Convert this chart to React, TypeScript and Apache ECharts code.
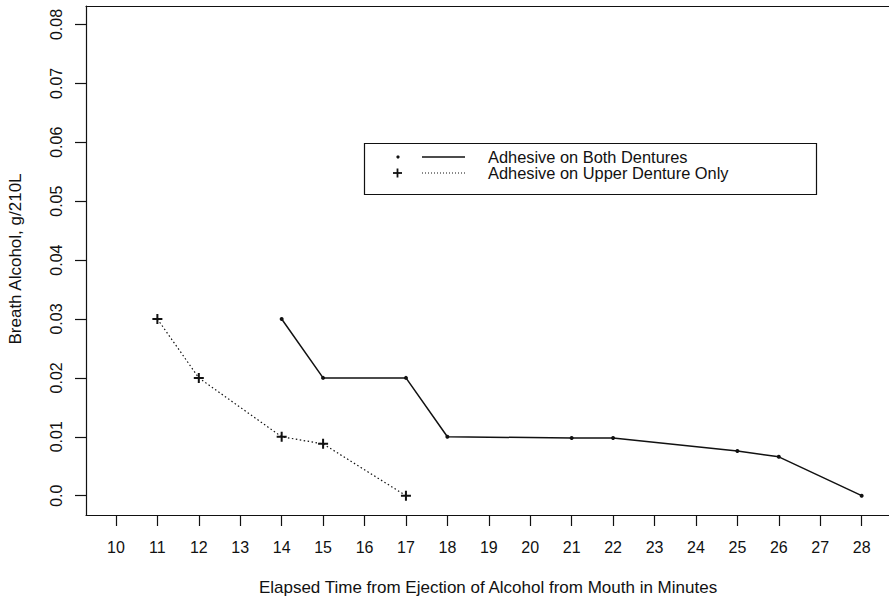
import React, { useEffect, useRef } from "react";
import * as echarts from "echarts";

const xTicks = [10, 11, 12, 13, 14, 15, 16, 17, 18, 19, 20, 21, 22, 23, 24, 25, 26, 27, 28];
const yTicks = [0, 0.01, 0.02, 0.03, 0.04, 0.05, 0.06, 0.07, 0.08];

const bothX = [14, 15, 17, 18, 21, 22, 25, 26, 28];
const bothY = [0.03, 0.02, 0.02, 0.01, 0.0098, 0.0098, 0.0076, 0.0066, 0];

const upperX = [11, 12, 14, 15, 17];
const upperY = [0.03, 0.02, 0.01, 0.0088, 0];

const legendNames = ["Adhesive on Both Dentures", "Adhesive on Upper Denture Only"];
const xTitle = "Elapsed Time from Ejection of Alcohol from Mouth in Minutes";
const yTitle = "Breath Alcohol, g/210L";

const FONT = "'Liberation Sans', Arial, Helvetica, sans-serif";
const INK = "#111";

export default function App() {
  const ref = useRef<HTMLDivElement>(null);
  useEffect(() => {
    if (!ref.current) return;
    const chart = echarts.init(ref.current, null, { renderer: "svg" });
    const plus = "path://M4,0H6V4H10V6H6V10H4V6H0V4H4Z";
    const X_MIN = 9.277;
    const X_MAX = 28.66;
    chart.setOption({
      animation: false,
      backgroundColor: "#fff",
      textStyle: { fontFamily: FONT, color: INK },
      grid: {
        left: 86,
        right: 0,
        top: 6,
        bottom: 84,
        show: false,
      },
      xAxis: [
        {
          type: "value",
          min: X_MIN,
          max: X_MAX,
          splitLine: { show: false },
          axisLine: { show: true, onZero: false, lineStyle: { color: INK, width: 1.2 } },
          axisTick: {
            show: true,
            customValues: xTicks,
            length: 11,
            lineStyle: { color: INK, width: 1.2 },
          },
          axisLabel: {
            customValues: xTicks,
            margin: 24,
            fontSize: 16,
            color: INK,
            fontFamily: FONT,
          },
        },
        {
          type: "value",
          position: "top",
          min: X_MIN,
          max: X_MAX,
          splitLine: { show: false },
          axisLine: { show: true, onZero: false, lineStyle: { color: INK, width: 1.2 } },
          axisTick: { show: false },
          axisLabel: { show: false },
        },
      ],
      yAxis: {
        type: "value",
        min: -0.00328,
        max: 0.08314,
        splitLine: { show: false },
        axisLine: { show: true, onZero: false, lineStyle: { color: INK, width: 1.2 } },
        axisTick: {
          show: true,
          customValues: yTicks,
          length: 11,
          lineStyle: { color: INK, width: 1.2 },
        },
        axisLabel: {
          customValues: yTicks,
          rotate: 90,
          margin: 22,
          fontSize: 16,
          color: INK,
          fontFamily: FONT,
          formatter: (v: number) => (v === 0 ? "0.0" : v.toFixed(2)),
        },
      },
      series: [
        {
          name: legendNames[0],
          type: "line",
          xAxisIndex: 0,
          data: bothX.map((x, i) => [x, bothY[i]]),
          lineStyle: { color: INK, width: 1.5, type: "solid" },
          symbol: "circle",
          symbolSize: 4,
          itemStyle: { color: INK },
        },
        {
          name: legendNames[1],
          type: "line",
          xAxisIndex: 0,
          data: upperX.map((x, i) => [x, upperY[i]]),
          lineStyle: { color: INK, width: 1.2, type: [1.5, 2.5] },
          symbol: plus,
          symbolSize: 10,
          itemStyle: { color: INK },
        },
      ],
      graphic: [
        {
          type: "rect",
          shape: { x: 364.5, y: 143.5, width: 452, height: 51 },
          style: { fill: "#fff", stroke: INK, lineWidth: 1.2 },
          z: 100,
        },
        {
          type: "circle",
          shape: { cx: 398, cy: 157, r: 1.6 },
          style: { fill: INK },
          z: 101,
        },
        {
          type: "line",
          shape: { x1: 422, y1: 157, x2: 465, y2: 157 },
          style: { stroke: INK, lineWidth: 1.5 },
          z: 101,
        },
        {
          type: "text",
          x: 488,
          y: 156.5,
          style: {
            text: legendNames[0],
            fontSize: 16.4,
            lineHeight: 15.5,
            fontFamily: FONT,
            fill: INK,
            verticalAlign: "middle",
          },
          z: 101,
        },
        {
          type: "line",
          shape: { x1: 393, y1: 173, x2: 402, y2: 173 },
          style: { stroke: INK, lineWidth: 1.8 },
          z: 101,
        },
        {
          type: "line",
          shape: { x1: 397.5, y1: 168.5, x2: 397.5, y2: 177.5 },
          style: { stroke: INK, lineWidth: 1.8 },
          z: 101,
        },
        {
          type: "line",
          shape: { x1: 422, y1: 173, x2: 465, y2: 173 },
          style: { stroke: INK, lineWidth: 1, lineDash: [1, 2] },
          z: 101,
        },
        {
          type: "text",
          x: 488,
          y: 173,
          style: {
            text: legendNames[1],
            fontSize: 16.4,
            lineHeight: 15.5,
            fontFamily: FONT,
            fill: INK,
            verticalAlign: "middle",
          },
          z: 101,
        },
        {
          type: "text",
          x: 488,
          y: 587,
          style: {
            text: xTitle,
            fontSize: 17,
            fontFamily: FONT,
            fill: INK,
            align: "center",
            verticalAlign: "middle",
          },
        },
        {
          type: "text",
          x: 15,
          y: 259,
          rotation: Math.PI / 2,
          style: {
            text: yTitle,
            fontSize: 17,
            fontFamily: FONT,
            fill: INK,
            align: "center",
            verticalAlign: "middle",
          },
        },
      ],
    });
    return () => chart.dispose();
  }, []);
  return <div ref={ref} style={{ width: 889, height: 599, position: "absolute", left: 0, top: 0 }} />;
}
